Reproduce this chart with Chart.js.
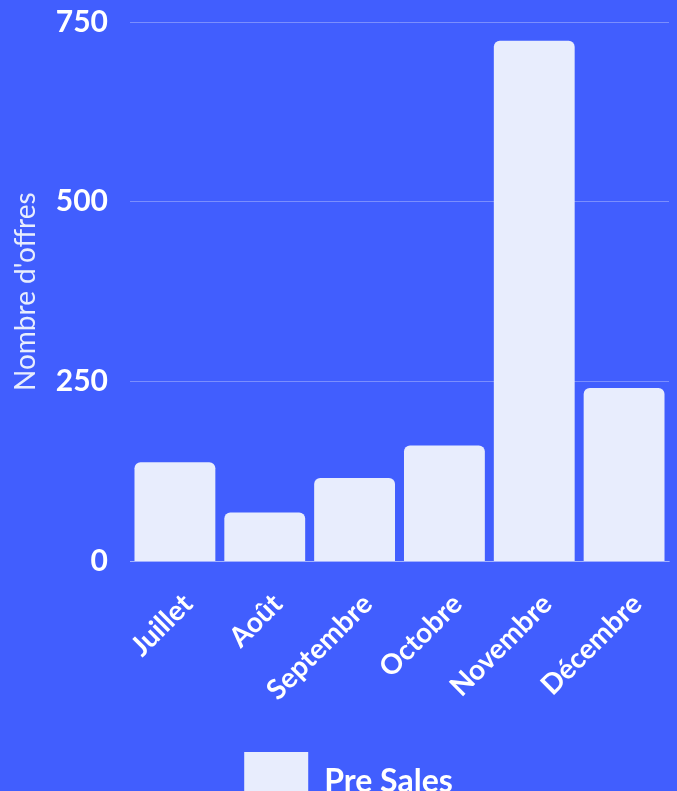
<!DOCTYPE html>
<html>
  <head>
    <meta charset="UTF-8" />
    <title>Offres par mois</title>
    <script src="https://cdn.jsdelivr.net/npm/chart.js"></script>
    <style>
      html,
      body {
        margin: 0;
        padding: 0;
        background: #415efe;
        overflow: hidden;
      }
      #wrap {
        width: 677px;
        height: 822px;
      }
    </style>
  </head>
  <body>
    <div id="wrap"><canvas id="offersChart"></canvas></div>
  </body>
  <script>
    const months = ["Juillet", "Août", "Septembre", "Octobre", "Novembre", "Décembre"];
    const preSales = [138, 68, 116, 161, 724, 241];
    const yTicks = [0, 250, 500, 750];

    const ctx = document.getElementById("offersChart").getContext("2d");
    new Chart(ctx, {
      type: "bar",
      data: {
        labels: months,
        datasets: [
          {
            label: "Pre Sales",
            data: preSales,
            backgroundColor: "#e8edfd",
            borderRadius: 6,
            borderSkipped: "bottom",
            barPercentage: 1,
            categoryPercentage: 0.9,
          },
        ],
      },
      options: {
        responsive: true,
        maintainAspectRatio: false,
        animation: false,
        // left padding only nudges the legend; the y axis width is fixed below
        layout: { padding: { top: 0, right: 0, left: 20 } },
        plugins: {
          legend: {
            position: "bottom",
            labels: {
              color: "#ffffff",
              boxWidth: 64,
              boxHeight: 60,
              padding: 27,
              font: { family: "Lato", size: 32, weight: "bold" },
            },
          },
          tooltip: { enabled: false },
        },
        scales: {
          y: {
            min: 0,
            max: 750,
            afterBuildTicks: (axis) => {
              axis.ticks = yTicks.map((v) => ({ value: v }));
            },
            afterFit: (axis) => {
              axis.paddingTop = 22;
              axis.width = 110;
            },
            ticks: {
              color: "#ffffff",
              padding: 22,
              font: { family: "Lato", size: 30, weight: "bold" },
            },
            grid: {
              color: "rgba(255,255,255,0.3)",
              drawTicks: false,
            },
            border: { display: false },
            title: {
              display: true,
              text: "Nombre d'offres",
              color: "#e8edfd",
              padding: { top: -11, bottom: 0 },
              font: { family: "Lato", size: 28 },
            },
          },
          x: {
            afterFit: (axis) => {
              axis.paddingRight = 8;
            },
            ticks: {
              color: "#ffffff",
              padding: 18,
              labelOffset: 13,
              maxRotation: 45,
              minRotation: 45,
              font: { family: "Lato", size: 28, weight: "bold" },
            },
            grid: { display: false },
            border: { color: "rgba(255,255,255,0.3)" },
          },
        },
      },
    });
  </script>
</html>
